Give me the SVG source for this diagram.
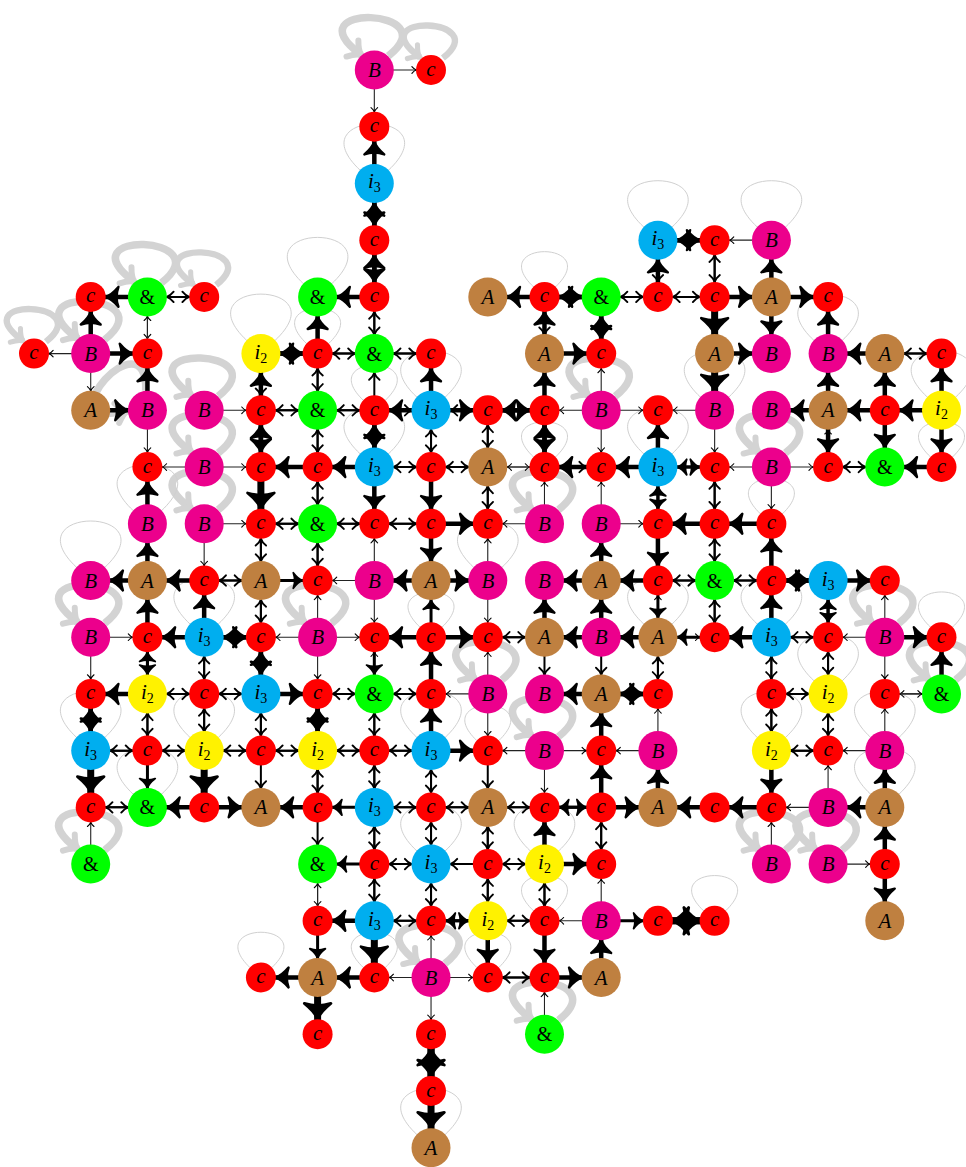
<svg xmlns="http://www.w3.org/2000/svg" width="966" height="1167" viewBox="0 0 966 1167">
<style>
.C{fill:#ff0000}.B{fill:#ec008c}.A{fill:#bf8040}.G{fill:#00ff00}.I3{fill:#00aeef}.I2{fill:#fff200}
#nodes text{font-family:"Liberation Serif",serif;font-style:italic;font-size:21px;text-anchor:middle;fill:#000}
#nodes text.u{font-style:normal;font-size:20px}
#nodes tspan.s{font-style:normal;font-size:14px}
.ah{fill:none;stroke:#000;stroke-linecap:round;stroke-linejoin:round}
.af{fill:#000;stroke:#000;stroke-linecap:round;stroke-linejoin:round}
.tk{fill:none;stroke:#d3d3d3;stroke-width:7.5;marker-end:url(#gh)}
.tn{fill:none;stroke:#d0d0d0;stroke-width:1}
.w1c,.w1b{stroke-width:.0194;stroke:#222}
.w2c,.w2b{stroke-width:.03526}
.w3c,.w3b{stroke-width:.0529}
.w4c,.w4b{stroke-width:.0793}
.w7c,.w7b{stroke-width:.1234}
.w1c{marker-end:url(#a1c)}.w1b{marker-end:url(#a1b)}
.w2c{marker-end:url(#a2c)}.w2b{marker-end:url(#a2b)}
.w3c{marker-end:url(#a3c)}.w3b{marker-end:url(#a3b)}
.w4c{marker-end:url(#a4c)}.w4b{marker-end:url(#a4b)}
.w7c{marker-end:url(#a7c)}.w7b{marker-end:url(#a7b)}
</style>
<defs>
<marker id="a1c" markerUnits="strokeWidth" orient="auto" refX="13.4" refY="0" overflow="visible"><path class="ah" stroke-width="1" d="M-4,-3 C-2.5,-1.2 -1,-0.3 0,0 C-1,0.3 -2.5,1.2 -4,3"/></marker>
<marker id="a1b" markerUnits="strokeWidth" orient="auto" refX="17.5" refY="0" overflow="visible"><path class="ah" stroke-width="1" d="M-4,-3 C-2.5,-1.2 -1,-0.3 0,0 C-1,0.3 -2.5,1.2 -4,3"/></marker>
<marker id="a2c" markerUnits="strokeWidth" orient="auto" refX="7.4" refY="0" overflow="visible"><path class="ah" stroke-width=".95" d="M-3.5,-2.6 C-2.2,-1 -0.9,-0.25 0,0 C-0.9,0.25 -2.2,1 -3.5,2.6"/></marker>
<marker id="a2b" markerUnits="strokeWidth" orient="auto" refX="9.6" refY="0" overflow="visible"><path class="ah" stroke-width=".95" d="M-3.5,-2.6 C-2.2,-1 -0.9,-0.25 0,0 C-0.9,0.25 -2.2,1 -3.5,2.6"/></marker>
<marker id="a3c" markerUnits="strokeWidth" orient="auto" refX="4.9" refY="0" overflow="visible"><path class="af" stroke-width=".6" d="M0,0 C-0.8,-0.25 -2,-1 -3.2,-2.6 Q-2.3,0 -3.2,2.6 C-2,1 -0.8,0.25 0,0 Z"/></marker>
<marker id="a3b" markerUnits="strokeWidth" orient="auto" refX="6.4" refY="0" overflow="visible"><path class="af" stroke-width=".6" d="M0,0 C-0.8,-0.25 -2,-1 -3.2,-2.6 Q-2.3,0 -3.2,2.6 C-2,1 -0.8,0.25 0,0 Z"/></marker>
<marker id="a4c" markerUnits="strokeWidth" orient="auto" refX="3.25" refY="0" overflow="visible"><path class="af" stroke-width=".55" d="M0,0 C-0.7,-0.2 -1.8,-0.9 -2.9,-2.2 Q-2.1,0 -2.9,2.2 C-1.8,0.9 -0.7,0.2 0,0 Z"/></marker>
<marker id="a4b" markerUnits="strokeWidth" orient="auto" refX="4.25" refY="0" overflow="visible"><path class="af" stroke-width=".55" d="M0,0 C-0.7,-0.2 -1.8,-0.9 -2.9,-2.2 Q-2.1,0 -2.9,2.2 C-1.8,0.9 -0.7,0.2 0,0 Z"/></marker>
<marker id="a7c" markerUnits="strokeWidth" orient="auto" refX="2.1" refY="0" overflow="visible"><path class="af" stroke-width=".4" d="M0,0 C-0.6,-0.2 -1.4,-0.8 -2.3,-1.9 Q-1.7,0 -2.3,1.9 C-1.4,0.8 -0.6,0.2 0,0 Z"/></marker>
<marker id="a7b" markerUnits="strokeWidth" orient="auto" refX="2.75" refY="0" overflow="visible"><path class="af" stroke-width=".4" d="M0,0 C-0.6,-0.2 -1.4,-0.8 -2.3,-1.9 Q-1.7,0 -2.3,1.9 C-1.4,0.8 -0.6,0.2 0,0 Z"/></marker>
<marker id="gh" markerUnits="userSpaceOnUse" orient="auto" refX="0" refY="0" overflow="visible"><path fill="none" stroke="#d3d3d3" stroke-width="6" stroke-linecap="round" stroke-linejoin="round" d="M-11,-10 C-7,-4.5 -3,-1 0,0 C-3,1 -7,4.5 -11,10"/></marker>
<path id="KL" class="tk" d="M14,-14 C75,-62 -85,-68 -13,-15"/>
<path id="TL" class="tn" d="M-14,-13 C-80,-75 80,-75 14,-13"/>
<path id="TLc" class="tn" d="M-11,-10 C-60,-57 60,-57 11,-10"/>
</defs>
<rect width="966" height="1167" fill="#fff"/>
<g id="connectors">
<g id="loops">
<use href="#KL" transform="translate(374.3,70)"/>
<use href="#KL" transform="translate(431,70) scale(.85)"/>
<use href="#KL" transform="translate(34,353.6) scale(.85)"/>
<use href="#KL" transform="translate(90.7,353.6)"/>
<use href="#KL" transform="translate(147.4,296.9)"/>
<use href="#KL" transform="translate(204.2,296.9) scale(.85)"/>
<use href="#KL" transform="translate(147.4,410.3) rotate(-50)"/>
<use href="#KL" transform="translate(204.2,410.3)"/>
<use href="#KL" transform="translate(204.2,467)"/>
<use href="#KL" transform="translate(204.2,523.8)"/>
<use href="#KL" transform="translate(601.2,410.3)"/>
<use href="#KL" transform="translate(544.5,523.8)"/>
<use href="#KL" transform="translate(771.4,467)"/>
<use href="#KL" transform="translate(317.6,637.2)"/>
<use href="#KL" transform="translate(90.7,637.2)"/>
<use href="#KL" transform="translate(487.8,693.9)"/>
<use href="#KL" transform="translate(544.5,750.6)"/>
<use href="#KL" transform="translate(884.8,637.2)"/>
<use href="#KL" transform="translate(941.5,693.9)"/>
<use href="#KL" transform="translate(771.4,864.1)"/>
<use href="#KL" transform="translate(828.1,864.1)"/>
<use href="#KL" transform="translate(90.7,864.1)"/>
<use href="#KL" transform="translate(431,977.5)"/>
<use href="#KL" transform="translate(544.5,1034.2)"/>
<use href="#TL" x="374.3" y="183.4"/><use href="#TL" x="317.6" y="296.9"/><use href="#TL" x="657.9" y="240.2"/><use href="#TL" x="771.4" y="240.2"/>
<use href="#TL" x="828.1" y="353.6"/><use href="#TL" x="260.9" y="353.6"/><use href="#TL" x="431" y="410.3"/><use href="#TL" x="374.3" y="467"/>
<use href="#TL" x="487.8" y="580.5"/><use href="#TL" x="714.6" y="410.3"/><use href="#TL" x="657.9" y="467"/><use href="#TL" x="941.5" y="410.3"/>
<use href="#TL" x="147.4" y="523.8"/><use href="#TL" x="90.7" y="580.5"/><use href="#TL" x="204.2" y="637.2"/><use href="#TL" x="90.7" y="750.6"/>
<use href="#TL" x="204.2" y="750.6"/><use href="#TL" x="147.4" y="807.4"/><use href="#TL" x="431" y="750.6"/><use href="#TL" x="544.5" y="864.1"/>
<use href="#TL" x="431" y="864.1"/><use href="#TL" x="771.4" y="637.2"/><use href="#TL" x="828.1" y="693.9"/><use href="#TL" x="771.4" y="750.6"/>
<use href="#TL" x="884.8" y="750.6"/><use href="#TL" x="884.8" y="807.4"/><use href="#TL" x="657.9" y="637.2"/><use href="#TL" x="431" y="1147.7"/>
<use href="#TLc" x="317.6" y="353.6"/><use href="#TLc" x="544.5" y="296.9"/><use href="#TLc" x="374.3" y="410.3"/><use href="#TLc" x="544.5" y="467"/>
<use href="#TLc" x="771.4" y="523.8"/><use href="#TLc" x="941.5" y="467"/><use href="#TLc" x="431" y="637.2"/><use href="#TLc" x="487.8" y="750.6"/>
<use href="#TLc" x="941.5" y="637.2"/><use href="#TLc" x="374.3" y="977.5"/><use href="#TLc" x="487.8" y="977.5"/><use href="#TLc" x="544.5" y="920.8"/>
<use href="#TLc" x="260.9" y="977.5"/><use href="#TLc" x="714.6" y="920.8"/>
</g>
<g id="edges" transform="translate(34,70) scale(56.72)" fill="none" stroke="#000">
<g class="w1c"><path d="M6 0h1"/><path d="M6 0v1"/><path d="M13 3h-1"/><path d="M2 4v1"/><path d="M1 5h-1"/><path d="M10 6v-1"/><path d="M3 6h1"/><path d="M10 6h-1"/><path d="M10 6h1"/><path d="M12 6h-1"/><path d="M2 6v1"/><path d="M10 6v1"/><path d="M12 6v1"/><path d="M3 7h-1"/><path d="M3 7h1"/><path d="M8 7h1"/><path d="M13 7h-1"/><path d="M13 7h1"/><path d="M9 8v-1"/><path d="M10 8v-1"/><path d="M13 7v1"/><path d="M3 8h1"/><path d="M9 8h-1"/><path d="M10 8h1"/><path d="M3 8v1"/><path d="M6 9v-1"/><path d="M8 9v-1"/><path d="M6 9h-1"/><path d="M5 10v-1"/><path d="M6 9v1"/><path d="M8 9v1"/><path d="M11 10v-1"/><path d="M15 10v-1"/><path d="M1 10h1"/><path d="M5 10h-1"/><path d="M5 10h1"/><path d="M11 10h1"/><path d="M15 10h-1"/><path d="M1 10v1"/><path d="M5 10v1"/><path d="M6 11v-1"/><path d="M8 11v-1"/><path d="M15 10v1"/><path d="M8 11h-1"/><path d="M16 11h-1"/><path d="M8 11v1"/><path d="M11 12v-1"/><path d="M15 12v-1"/><path d="M9 12h-1"/><path d="M9 12h1"/><path d="M11 12h-1"/><path d="M15 12h-1"/><path d="M9 12v1"/><path d="M14 13v-1"/><path d="M14 13h-1"/><path d="M1 14v-1"/><path d="M13 14v-1"/><path d="M14 14h1"/><path d="M5 14v1"/><path d="M10 15v-1"/><path d="M10 15h-1"/><path d="M7 16v-1"/><path d="M7 16h-1"/><path d="M7 16h1"/><path d="M7 16v1"/><path d="M9 17v-1"/></g>
<g class="w1b"><path d="M2 5v-1"/><path d="M1 5v1"/><path d="M14 7v-1"/><path d="M9 7h-1"/><path d="M15 11h1"/><path d="M5 15v-1"/></g>
<g class="w2c"><path d="M11 3v1"/><path d="M12 3v1"/><path d="M12 4v-1"/><path d="M2 4h1"/><path d="M10 4h1"/><path d="M11 4h1"/><path d="M12 4h-1"/><path d="M6 5v-1"/><path d="M6 5h-1"/><path d="M6 5h1"/><path d="M15 5h1"/><path d="M4 5v1"/><path d="M5 6v-1"/><path d="M5 6h-1"/><path d="M5 6h1"/><path d="M5 6v1"/><path d="M7 6v1"/><path d="M8 7v-1"/><path d="M6 7h1"/><path d="M8 7h-1"/><path d="M9 7h1"/><path d="M15 7h-1"/><path d="M5 8v-1"/><path d="M8 7v1"/><path d="M12 7v1"/><path d="M12 8v-1"/><path d="M5 8h-1"/><path d="M5 8h1"/><path d="M6 8h1"/><path d="M7 8h-1"/><path d="M4 9v-1"/><path d="M5 8v1"/><path d="M12 9v-1"/><path d="M4 9h-1"/><path d="M12 9h-1"/><path d="M12 9h1"/><path d="M4 9v1"/><path d="M12 9v1"/><path d="M9 10h-1"/><path d="M13 10h1"/><path d="M3 10v1"/><path d="M11 10v1"/><path d="M13 10v1"/><path d="M14 11v-1"/><path d="M2 11h1"/><path d="M4 11h-1"/><path d="M6 11h-1"/><path d="M6 11h1"/><path d="M14 11h-1"/><path d="M2 11v1"/><path d="M3 12v-1"/><path d="M4 11v1"/><path d="M6 11v1"/><path d="M13 12v-1"/><path d="M14 11v1"/><path d="M1 12h1"/><path d="M3 12h-1"/><path d="M3 12h1"/><path d="M5 12h-1"/><path d="M5 12h1"/><path d="M7 12h-1"/><path d="M13 12h1"/><path d="M5 12v1"/><path d="M6 13v-1"/><path d="M7 12v1"/><path d="M2 13h-1"/><path d="M6 13h1"/><path d="M8 13h-1"/><path d="M8 13h1"/><path d="M6 13v1"/><path d="M7 14v-1"/><path d="M8 13v1"/><path d="M10 13v1"/><path d="M10 14v-1"/><path d="M7 14h-1"/><path d="M9 14h-1"/><path d="M6 15v-1"/><path d="M7 14v1"/><path d="M8 15v-1"/><path d="M9 14v1"/><path d="M6 15h1"/><path d="M8 15h1"/><path d="M8 16h1"/><path d="M9 16h-1"/></g>
<g class="w2b"><path d="M3 4h-1"/><path d="M11 4h-1"/><path d="M6 4v1"/><path d="M9 4v1"/><path d="M5 5h1"/><path d="M7 5h-1"/><path d="M16 5h-1"/><path d="M5 5v1"/><path d="M6 6v-1"/><path d="M4 6h1"/><path d="M6 6h-1"/><path d="M6 6h1"/><path d="M8 6h-1"/><path d="M5 7v-1"/><path d="M7 7v-1"/><path d="M8 6v1"/><path d="M7 7h-1"/><path d="M7 7h1"/><path d="M14 7h1"/><path d="M5 7v1"/><path d="M8 8v-1"/><path d="M4 8h1"/><path d="M6 8h-1"/><path d="M4 8v1"/><path d="M5 9v-1"/><path d="M12 8v1"/><path d="M3 9h1"/><path d="M11 9h1"/><path d="M13 9h-1"/><path d="M4 10v-1"/><path d="M12 10v-1"/><path d="M8 10h1"/><path d="M14 10h-1"/><path d="M3 11v-1"/><path d="M9 10v1"/><path d="M10 10v1"/><path d="M11 11v-1"/><path d="M13 11v-1"/><path d="M14 10v1"/><path d="M3 11h-1"/><path d="M3 11h1"/><path d="M5 11h1"/><path d="M7 11h-1"/><path d="M13 11h1"/><path d="M2 12v-1"/><path d="M3 11v1"/><path d="M4 12v-1"/><path d="M6 12v-1"/><path d="M13 11v1"/><path d="M14 12v-1"/><path d="M2 12h-1"/><path d="M2 12h1"/><path d="M4 12h-1"/><path d="M4 12h1"/><path d="M6 12h-1"/><path d="M6 12h1"/><path d="M14 12h-1"/><path d="M4 12v1"/><path d="M5 13v-1"/><path d="M6 12v1"/><path d="M7 13v-1"/><path d="M8 12v1"/><path d="M1 13h1"/><path d="M7 13h-1"/><path d="M7 13h1"/><path d="M9 13h-1"/><path d="M5 13v1"/><path d="M6 14v-1"/><path d="M7 13v1"/><path d="M8 14v-1"/><path d="M6 14h1"/><path d="M8 14h-1"/><path d="M8 14h1"/><path d="M6 14v1"/><path d="M7 15v-1"/><path d="M8 14v1"/><path d="M9 15v-1"/><path d="M7 15h-1"/><path d="M9 15h-1"/></g>
<g class="w3c"><path d="M11 7h1"/><path d="M11 7v1"/><path d="M4 9h1"/><path d="M14 9v1"/><path d="M2 11v-1"/><path d="M6 13h-1"/><path d="M9 13h1"/><path d="M10 13h-1"/><path d="M8 15h-1"/><path d="M10 15h1"/></g>
<g class="w3b"><path d="M12 7h-1"/><path d="M11 8v-1"/><path d="M7 10v-1"/><path d="M11 9v1"/><path d="M14 10v-1"/><path d="M12 10h-1"/><path d="M2 10v1"/><path d="M6 10v1"/><path d="M2 12v1"/><path d="M6 14h-1"/><path d="M7 15h1"/><path d="M5 15v1"/></g>
<g class="w4c"><path d="M6 2v-1"/><path d="M6 2v1"/><path d="M6 3v1"/><path d="M6 4v-1"/><path d="M11 3h1"/><path d="M2 4h-1"/><path d="M10 4h-1"/><path d="M13 4h1"/><path d="M1 5v-1"/><path d="M9 5v-1"/><path d="M10 4v1"/><path d="M14 5v-1"/><path d="M1 5h1"/><path d="M4 5h1"/><path d="M9 5h1"/><path d="M2 6v-1"/><path d="M7 6v-1"/><path d="M16 6v-1"/><path d="M7 6h-1"/><path d="M7 6h1"/><path d="M8 6h1"/><path d="M9 6h-1"/><path d="M16 6h-1"/><path d="M4 6v1"/><path d="M4 7v-1"/><path d="M6 7v-1"/><path d="M9 6v1"/><path d="M9 7v-1"/><path d="M11 7v-1"/><path d="M14 6v1"/><path d="M16 6v1"/><path d="M5 7h-1"/><path d="M6 7h-1"/><path d="M10 7h-1"/><path d="M11 7h-1"/><path d="M2 8v-1"/><path d="M6 7v1"/><path d="M7 7v1"/><path d="M7 8h1"/><path d="M12 8h-1"/><path d="M13 8h-1"/><path d="M11 8v1"/><path d="M13 9v-1"/><path d="M14 9h-1"/><path d="M14 9h1"/><path d="M3 10v-1"/><path d="M13 10v-1"/><path d="M3 10h-1"/><path d="M3 10h1"/><path d="M7 10h-1"/><path d="M7 10h1"/><path d="M13 10h-1"/><path d="M15 10h1"/><path d="M4 11v-1"/><path d="M7 11v-1"/><path d="M16 11v-1"/><path d="M2 11h-1"/><path d="M4 11h1"/><path d="M10 11h1"/><path d="M1 12v-1"/><path d="M5 12v-1"/><path d="M7 12v-1"/><path d="M7 12h1"/><path d="M10 13v-1"/><path d="M13 12v1"/><path d="M13 13h-1"/><path d="M9 14v-1"/><path d="M9 14h1"/><path d="M6 15h-1"/><path d="M8 15v1"/><path d="M9 15v1"/><path d="M5 16h-1"/></g>
<g class="w4b"><path d="M6 3v-1"/><path d="M6 4h-1"/><path d="M12 3h-1"/><path d="M11 4v-1"/><path d="M13 4v-1"/><path d="M9 4h-1"/><path d="M9 4h1"/><path d="M12 4h1"/><path d="M5 5v-1"/><path d="M10 5v-1"/><path d="M13 4v1"/><path d="M5 5h-1"/><path d="M12 5h1"/><path d="M15 5h-1"/><path d="M4 6v-1"/><path d="M9 6v-1"/><path d="M14 6v-1"/><path d="M15 6v-1"/><path d="M1 6h1"/><path d="M14 6h-1"/><path d="M15 6h-1"/><path d="M6 6v1"/><path d="M15 6v1"/><path d="M16 7h-1"/><path d="M7 8v1"/><path d="M10 9v-1"/><path d="M2 9v-1"/><path d="M2 9h-1"/><path d="M3 9h-1"/><path d="M7 9h-1"/><path d="M7 9h1"/><path d="M10 9h-1"/><path d="M11 9h-1"/><path d="M13 9h1"/><path d="M2 10v-1"/><path d="M9 10v-1"/><path d="M10 10v-1"/><path d="M4 10h-1"/><path d="M10 10h-1"/><path d="M11 10h-1"/><path d="M4 10v1"/><path d="M10 11h-1"/><path d="M11 11h-1"/><path d="M1 11v1"/><path d="M5 11v1"/><path d="M10 12v-1"/><path d="M11 13v-1"/><path d="M15 13v-1"/><path d="M3 13h-1"/><path d="M3 13h1"/><path d="M5 13h-1"/><path d="M10 13h1"/><path d="M12 13h-1"/><path d="M15 13h-1"/><path d="M15 14v-1"/><path d="M15 14v1"/><path d="M10 16v-1"/><path d="M6 16h-1"/><path d="M9 16h1"/></g>
<g class="w7c"><path d="M4 7v1"/><path d="M1 12v1"/><path d="M3 12v1"/><path d="M11 15h1"/><path d="M12 15h-1"/><path d="M6 15v1"/><path d="M5 16v1"/><path d="M7 17v1"/><path d="M7 18v-1"/></g>
<g class="w7b"><path d="M12 4v1"/><path d="M12 5v1"/><path d="M7 18v1"/></g>
</g>
</g>
<g id="nodes">
<g id="n6_0" transform="translate(374.3,70)"><circle class="B" r="19.5"/><text y="7">B</text></g>
<g id="n7_0" transform="translate(431,70)"><circle class="C" r="15"/><text y="5.5">c</text></g>
<g id="n6_1" transform="translate(374.3,126.7)"><circle class="C" r="15"/><text y="5.5">c</text></g>
<g id="n6_2" transform="translate(374.3,183.4)"><circle class="I3" r="19.5"/><text y="5">i<tspan class="s" dy="4">3</tspan></text></g>
<g id="n6_3" transform="translate(374.3,240.2)"><circle class="C" r="15"/><text y="5.5">c</text></g>
<g id="n11_3" transform="translate(657.9,240.2)"><circle class="I3" r="19.5"/><text y="5">i<tspan class="s" dy="4">3</tspan></text></g>
<g id="n12_3" transform="translate(714.6,240.2)"><circle class="C" r="15"/><text y="5.5">c</text></g>
<g id="n13_3" transform="translate(771.4,240.2)"><circle class="B" r="19.5"/><text y="7">B</text></g>
<g id="n1_4" transform="translate(90.7,296.9)"><circle class="C" r="15"/><text y="5.5">c</text></g>
<g id="n2_4" transform="translate(147.4,296.9)"><circle class="G" r="19.5"/><text class="u" y="7">&amp;</text></g>
<g id="n3_4" transform="translate(204.2,296.9)"><circle class="C" r="15"/><text y="5.5">c</text></g>
<g id="n5_4" transform="translate(317.6,296.9)"><circle class="G" r="19.5"/><text class="u" y="7">&amp;</text></g>
<g id="n6_4" transform="translate(374.3,296.9)"><circle class="C" r="15"/><text y="5.5">c</text></g>
<g id="n8_4" transform="translate(487.8,296.9)"><circle class="A" r="19.5"/><text y="7">A</text></g>
<g id="n9_4" transform="translate(544.5,296.9)"><circle class="C" r="15"/><text y="5.5">c</text></g>
<g id="n10_4" transform="translate(601.2,296.9)"><circle class="G" r="19.5"/><text class="u" y="7">&amp;</text></g>
<g id="n11_4" transform="translate(657.9,296.9)"><circle class="C" r="15"/><text y="5.5">c</text></g>
<g id="n12_4" transform="translate(714.6,296.9)"><circle class="C" r="15"/><text y="5.5">c</text></g>
<g id="n13_4" transform="translate(771.4,296.9)"><circle class="A" r="19.5"/><text y="7">A</text></g>
<g id="n14_4" transform="translate(828.1,296.9)"><circle class="C" r="15"/><text y="5.5">c</text></g>
<g id="n0_5" transform="translate(34,353.6)"><circle class="C" r="15"/><text y="5.5">c</text></g>
<g id="n1_5" transform="translate(90.7,353.6)"><circle class="B" r="19.5"/><text y="7">B</text></g>
<g id="n2_5" transform="translate(147.4,353.6)"><circle class="C" r="15"/><text y="5.5">c</text></g>
<g id="n4_5" transform="translate(260.9,353.6)"><circle class="I2" r="19.5"/><text y="5">i<tspan class="s" dy="4">2</tspan></text></g>
<g id="n5_5" transform="translate(317.6,353.6)"><circle class="C" r="15"/><text y="5.5">c</text></g>
<g id="n6_5" transform="translate(374.3,353.6)"><circle class="G" r="19.5"/><text class="u" y="7">&amp;</text></g>
<g id="n7_5" transform="translate(431,353.6)"><circle class="C" r="15"/><text y="5.5">c</text></g>
<g id="n9_5" transform="translate(544.5,353.6)"><circle class="A" r="19.5"/><text y="7">A</text></g>
<g id="n10_5" transform="translate(601.2,353.6)"><circle class="C" r="15"/><text y="5.5">c</text></g>
<g id="n12_5" transform="translate(714.6,353.6)"><circle class="A" r="19.5"/><text y="7">A</text></g>
<g id="n13_5" transform="translate(771.4,353.6)"><circle class="B" r="19.5"/><text y="7">B</text></g>
<g id="n14_5" transform="translate(828.1,353.6)"><circle class="B" r="19.5"/><text y="7">B</text></g>
<g id="n15_5" transform="translate(884.8,353.6)"><circle class="A" r="19.5"/><text y="7">A</text></g>
<g id="n16_5" transform="translate(941.5,353.6)"><circle class="C" r="15"/><text y="5.5">c</text></g>
<g id="n1_6" transform="translate(90.7,410.3)"><circle class="A" r="19.5"/><text y="7">A</text></g>
<g id="n2_6" transform="translate(147.4,410.3)"><circle class="B" r="19.5"/><text y="7">B</text></g>
<g id="n3_6" transform="translate(204.2,410.3)"><circle class="B" r="19.5"/><text y="7">B</text></g>
<g id="n4_6" transform="translate(260.9,410.3)"><circle class="C" r="15"/><text y="5.5">c</text></g>
<g id="n5_6" transform="translate(317.6,410.3)"><circle class="G" r="19.5"/><text class="u" y="7">&amp;</text></g>
<g id="n6_6" transform="translate(374.3,410.3)"><circle class="C" r="15"/><text y="5.5">c</text></g>
<g id="n7_6" transform="translate(431,410.3)"><circle class="I3" r="19.5"/><text y="5">i<tspan class="s" dy="4">3</tspan></text></g>
<g id="n8_6" transform="translate(487.8,410.3)"><circle class="C" r="15"/><text y="5.5">c</text></g>
<g id="n9_6" transform="translate(544.5,410.3)"><circle class="C" r="15"/><text y="5.5">c</text></g>
<g id="n10_6" transform="translate(601.2,410.3)"><circle class="B" r="19.5"/><text y="7">B</text></g>
<g id="n11_6" transform="translate(657.9,410.3)"><circle class="C" r="15"/><text y="5.5">c</text></g>
<g id="n12_6" transform="translate(714.6,410.3)"><circle class="B" r="19.5"/><text y="7">B</text></g>
<g id="n13_6" transform="translate(771.4,410.3)"><circle class="B" r="19.5"/><text y="7">B</text></g>
<g id="n14_6" transform="translate(828.1,410.3)"><circle class="A" r="19.5"/><text y="7">A</text></g>
<g id="n15_6" transform="translate(884.8,410.3)"><circle class="C" r="15"/><text y="5.5">c</text></g>
<g id="n16_6" transform="translate(941.5,410.3)"><circle class="I2" r="19.5"/><text y="5">i<tspan class="s" dy="4">2</tspan></text></g>
<g id="n2_7" transform="translate(147.4,467)"><circle class="C" r="15"/><text y="5.5">c</text></g>
<g id="n3_7" transform="translate(204.2,467)"><circle class="B" r="19.5"/><text y="7">B</text></g>
<g id="n4_7" transform="translate(260.9,467)"><circle class="C" r="15"/><text y="5.5">c</text></g>
<g id="n5_7" transform="translate(317.6,467)"><circle class="C" r="15"/><text y="5.5">c</text></g>
<g id="n6_7" transform="translate(374.3,467)"><circle class="I3" r="19.5"/><text y="5">i<tspan class="s" dy="4">3</tspan></text></g>
<g id="n7_7" transform="translate(431,467)"><circle class="C" r="15"/><text y="5.5">c</text></g>
<g id="n8_7" transform="translate(487.8,467)"><circle class="A" r="19.5"/><text y="7">A</text></g>
<g id="n9_7" transform="translate(544.5,467)"><circle class="C" r="15"/><text y="5.5">c</text></g>
<g id="n10_7" transform="translate(601.2,467)"><circle class="C" r="15"/><text y="5.5">c</text></g>
<g id="n11_7" transform="translate(657.9,467)"><circle class="I3" r="19.5"/><text y="5">i<tspan class="s" dy="4">3</tspan></text></g>
<g id="n12_7" transform="translate(714.6,467)"><circle class="C" r="15"/><text y="5.5">c</text></g>
<g id="n13_7" transform="translate(771.4,467)"><circle class="B" r="19.5"/><text y="7">B</text></g>
<g id="n14_7" transform="translate(828.1,467)"><circle class="C" r="15"/><text y="5.5">c</text></g>
<g id="n15_7" transform="translate(884.8,467)"><circle class="G" r="19.5"/><text class="u" y="7">&amp;</text></g>
<g id="n16_7" transform="translate(941.5,467)"><circle class="C" r="15"/><text y="5.5">c</text></g>
<g id="n2_8" transform="translate(147.4,523.8)"><circle class="B" r="19.5"/><text y="7">B</text></g>
<g id="n3_8" transform="translate(204.2,523.8)"><circle class="B" r="19.5"/><text y="7">B</text></g>
<g id="n4_8" transform="translate(260.9,523.8)"><circle class="C" r="15"/><text y="5.5">c</text></g>
<g id="n5_8" transform="translate(317.6,523.8)"><circle class="G" r="19.5"/><text class="u" y="7">&amp;</text></g>
<g id="n6_8" transform="translate(374.3,523.8)"><circle class="C" r="15"/><text y="5.5">c</text></g>
<g id="n7_8" transform="translate(431,523.8)"><circle class="C" r="15"/><text y="5.5">c</text></g>
<g id="n8_8" transform="translate(487.8,523.8)"><circle class="C" r="15"/><text y="5.5">c</text></g>
<g id="n9_8" transform="translate(544.5,523.8)"><circle class="B" r="19.5"/><text y="7">B</text></g>
<g id="n10_8" transform="translate(601.2,523.8)"><circle class="B" r="19.5"/><text y="7">B</text></g>
<g id="n11_8" transform="translate(657.9,523.8)"><circle class="C" r="15"/><text y="5.5">c</text></g>
<g id="n12_8" transform="translate(714.6,523.8)"><circle class="C" r="15"/><text y="5.5">c</text></g>
<g id="n13_8" transform="translate(771.4,523.8)"><circle class="C" r="15"/><text y="5.5">c</text></g>
<g id="n1_9" transform="translate(90.7,580.5)"><circle class="B" r="19.5"/><text y="7">B</text></g>
<g id="n2_9" transform="translate(147.4,580.5)"><circle class="A" r="19.5"/><text y="7">A</text></g>
<g id="n3_9" transform="translate(204.2,580.5)"><circle class="C" r="15"/><text y="5.5">c</text></g>
<g id="n4_9" transform="translate(260.9,580.5)"><circle class="A" r="19.5"/><text y="7">A</text></g>
<g id="n5_9" transform="translate(317.6,580.5)"><circle class="C" r="15"/><text y="5.5">c</text></g>
<g id="n6_9" transform="translate(374.3,580.5)"><circle class="B" r="19.5"/><text y="7">B</text></g>
<g id="n7_9" transform="translate(431,580.5)"><circle class="A" r="19.5"/><text y="7">A</text></g>
<g id="n8_9" transform="translate(487.8,580.5)"><circle class="B" r="19.5"/><text y="7">B</text></g>
<g id="n9_9" transform="translate(544.5,580.5)"><circle class="B" r="19.5"/><text y="7">B</text></g>
<g id="n10_9" transform="translate(601.2,580.5)"><circle class="A" r="19.5"/><text y="7">A</text></g>
<g id="n11_9" transform="translate(657.9,580.5)"><circle class="C" r="15"/><text y="5.5">c</text></g>
<g id="n12_9" transform="translate(714.6,580.5)"><circle class="G" r="19.5"/><text class="u" y="7">&amp;</text></g>
<g id="n13_9" transform="translate(771.4,580.5)"><circle class="C" r="15"/><text y="5.5">c</text></g>
<g id="n14_9" transform="translate(828.1,580.5)"><circle class="I3" r="19.5"/><text y="5">i<tspan class="s" dy="4">3</tspan></text></g>
<g id="n15_9" transform="translate(884.8,580.5)"><circle class="C" r="15"/><text y="5.5">c</text></g>
<g id="n1_10" transform="translate(90.7,637.2)"><circle class="B" r="19.5"/><text y="7">B</text></g>
<g id="n2_10" transform="translate(147.4,637.2)"><circle class="C" r="15"/><text y="5.5">c</text></g>
<g id="n3_10" transform="translate(204.2,637.2)"><circle class="I3" r="19.5"/><text y="5">i<tspan class="s" dy="4">3</tspan></text></g>
<g id="n4_10" transform="translate(260.9,637.2)"><circle class="C" r="15"/><text y="5.5">c</text></g>
<g id="n5_10" transform="translate(317.6,637.2)"><circle class="B" r="19.5"/><text y="7">B</text></g>
<g id="n6_10" transform="translate(374.3,637.2)"><circle class="C" r="15"/><text y="5.5">c</text></g>
<g id="n7_10" transform="translate(431,637.2)"><circle class="C" r="15"/><text y="5.5">c</text></g>
<g id="n8_10" transform="translate(487.8,637.2)"><circle class="C" r="15"/><text y="5.5">c</text></g>
<g id="n9_10" transform="translate(544.5,637.2)"><circle class="A" r="19.5"/><text y="7">A</text></g>
<g id="n10_10" transform="translate(601.2,637.2)"><circle class="B" r="19.5"/><text y="7">B</text></g>
<g id="n11_10" transform="translate(657.9,637.2)"><circle class="A" r="19.5"/><text y="7">A</text></g>
<g id="n12_10" transform="translate(714.6,637.2)"><circle class="C" r="15"/><text y="5.5">c</text></g>
<g id="n13_10" transform="translate(771.4,637.2)"><circle class="I3" r="19.5"/><text y="5">i<tspan class="s" dy="4">3</tspan></text></g>
<g id="n14_10" transform="translate(828.1,637.2)"><circle class="C" r="15"/><text y="5.5">c</text></g>
<g id="n15_10" transform="translate(884.8,637.2)"><circle class="B" r="19.5"/><text y="7">B</text></g>
<g id="n16_10" transform="translate(941.5,637.2)"><circle class="C" r="15"/><text y="5.5">c</text></g>
<g id="n1_11" transform="translate(90.7,693.9)"><circle class="C" r="15"/><text y="5.5">c</text></g>
<g id="n2_11" transform="translate(147.4,693.9)"><circle class="I2" r="19.5"/><text y="5">i<tspan class="s" dy="4">2</tspan></text></g>
<g id="n3_11" transform="translate(204.2,693.9)"><circle class="C" r="15"/><text y="5.5">c</text></g>
<g id="n4_11" transform="translate(260.9,693.9)"><circle class="I3" r="19.5"/><text y="5">i<tspan class="s" dy="4">3</tspan></text></g>
<g id="n5_11" transform="translate(317.6,693.9)"><circle class="C" r="15"/><text y="5.5">c</text></g>
<g id="n6_11" transform="translate(374.3,693.9)"><circle class="G" r="19.5"/><text class="u" y="7">&amp;</text></g>
<g id="n7_11" transform="translate(431,693.9)"><circle class="C" r="15"/><text y="5.5">c</text></g>
<g id="n8_11" transform="translate(487.8,693.9)"><circle class="B" r="19.5"/><text y="7">B</text></g>
<g id="n9_11" transform="translate(544.5,693.9)"><circle class="B" r="19.5"/><text y="7">B</text></g>
<g id="n10_11" transform="translate(601.2,693.9)"><circle class="A" r="19.5"/><text y="7">A</text></g>
<g id="n11_11" transform="translate(657.9,693.9)"><circle class="C" r="15"/><text y="5.5">c</text></g>
<g id="n13_11" transform="translate(771.4,693.9)"><circle class="C" r="15"/><text y="5.5">c</text></g>
<g id="n14_11" transform="translate(828.1,693.9)"><circle class="I2" r="19.5"/><text y="5">i<tspan class="s" dy="4">2</tspan></text></g>
<g id="n15_11" transform="translate(884.8,693.9)"><circle class="C" r="15"/><text y="5.5">c</text></g>
<g id="n16_11" transform="translate(941.5,693.9)"><circle class="G" r="19.5"/><text class="u" y="7">&amp;</text></g>
<g id="n1_12" transform="translate(90.7,750.6)"><circle class="I3" r="19.5"/><text y="5">i<tspan class="s" dy="4">3</tspan></text></g>
<g id="n2_12" transform="translate(147.4,750.6)"><circle class="C" r="15"/><text y="5.5">c</text></g>
<g id="n3_12" transform="translate(204.2,750.6)"><circle class="I2" r="19.5"/><text y="5">i<tspan class="s" dy="4">2</tspan></text></g>
<g id="n4_12" transform="translate(260.9,750.6)"><circle class="C" r="15"/><text y="5.5">c</text></g>
<g id="n5_12" transform="translate(317.6,750.6)"><circle class="I2" r="19.5"/><text y="5">i<tspan class="s" dy="4">2</tspan></text></g>
<g id="n6_12" transform="translate(374.3,750.6)"><circle class="C" r="15"/><text y="5.5">c</text></g>
<g id="n7_12" transform="translate(431,750.6)"><circle class="I3" r="19.5"/><text y="5">i<tspan class="s" dy="4">3</tspan></text></g>
<g id="n8_12" transform="translate(487.8,750.6)"><circle class="C" r="15"/><text y="5.5">c</text></g>
<g id="n9_12" transform="translate(544.5,750.6)"><circle class="B" r="19.5"/><text y="7">B</text></g>
<g id="n10_12" transform="translate(601.2,750.6)"><circle class="C" r="15"/><text y="5.5">c</text></g>
<g id="n11_12" transform="translate(657.9,750.6)"><circle class="B" r="19.5"/><text y="7">B</text></g>
<g id="n13_12" transform="translate(771.4,750.6)"><circle class="I2" r="19.5"/><text y="5">i<tspan class="s" dy="4">2</tspan></text></g>
<g id="n14_12" transform="translate(828.1,750.6)"><circle class="C" r="15"/><text y="5.5">c</text></g>
<g id="n15_12" transform="translate(884.8,750.6)"><circle class="B" r="19.5"/><text y="7">B</text></g>
<g id="n1_13" transform="translate(90.7,807.4)"><circle class="C" r="15"/><text y="5.5">c</text></g>
<g id="n2_13" transform="translate(147.4,807.4)"><circle class="G" r="19.5"/><text class="u" y="7">&amp;</text></g>
<g id="n3_13" transform="translate(204.2,807.4)"><circle class="C" r="15"/><text y="5.5">c</text></g>
<g id="n4_13" transform="translate(260.9,807.4)"><circle class="A" r="19.5"/><text y="7">A</text></g>
<g id="n5_13" transform="translate(317.6,807.4)"><circle class="C" r="15"/><text y="5.5">c</text></g>
<g id="n6_13" transform="translate(374.3,807.4)"><circle class="I3" r="19.5"/><text y="5">i<tspan class="s" dy="4">3</tspan></text></g>
<g id="n7_13" transform="translate(431,807.4)"><circle class="C" r="15"/><text y="5.5">c</text></g>
<g id="n8_13" transform="translate(487.8,807.4)"><circle class="A" r="19.5"/><text y="7">A</text></g>
<g id="n9_13" transform="translate(544.5,807.4)"><circle class="C" r="15"/><text y="5.5">c</text></g>
<g id="n10_13" transform="translate(601.2,807.4)"><circle class="C" r="15"/><text y="5.5">c</text></g>
<g id="n11_13" transform="translate(657.9,807.4)"><circle class="A" r="19.5"/><text y="7">A</text></g>
<g id="n12_13" transform="translate(714.6,807.4)"><circle class="C" r="15"/><text y="5.5">c</text></g>
<g id="n13_13" transform="translate(771.4,807.4)"><circle class="C" r="15"/><text y="5.5">c</text></g>
<g id="n14_13" transform="translate(828.1,807.4)"><circle class="B" r="19.5"/><text y="7">B</text></g>
<g id="n15_13" transform="translate(884.8,807.4)"><circle class="A" r="19.5"/><text y="7">A</text></g>
<g id="n1_14" transform="translate(90.7,864.1)"><circle class="G" r="19.5"/><text class="u" y="7">&amp;</text></g>
<g id="n5_14" transform="translate(317.6,864.1)"><circle class="G" r="19.5"/><text class="u" y="7">&amp;</text></g>
<g id="n6_14" transform="translate(374.3,864.1)"><circle class="C" r="15"/><text y="5.5">c</text></g>
<g id="n7_14" transform="translate(431,864.1)"><circle class="I3" r="19.5"/><text y="5">i<tspan class="s" dy="4">3</tspan></text></g>
<g id="n8_14" transform="translate(487.8,864.1)"><circle class="C" r="15"/><text y="5.5">c</text></g>
<g id="n9_14" transform="translate(544.5,864.1)"><circle class="I2" r="19.5"/><text y="5">i<tspan class="s" dy="4">2</tspan></text></g>
<g id="n10_14" transform="translate(601.2,864.1)"><circle class="C" r="15"/><text y="5.5">c</text></g>
<g id="n13_14" transform="translate(771.4,864.1)"><circle class="B" r="19.5"/><text y="7">B</text></g>
<g id="n14_14" transform="translate(828.1,864.1)"><circle class="B" r="19.5"/><text y="7">B</text></g>
<g id="n15_14" transform="translate(884.8,864.1)"><circle class="C" r="15"/><text y="5.5">c</text></g>
<g id="n5_15" transform="translate(317.6,920.8)"><circle class="C" r="15"/><text y="5.5">c</text></g>
<g id="n6_15" transform="translate(374.3,920.8)"><circle class="I3" r="19.5"/><text y="5">i<tspan class="s" dy="4">3</tspan></text></g>
<g id="n7_15" transform="translate(431,920.8)"><circle class="C" r="15"/><text y="5.5">c</text></g>
<g id="n8_15" transform="translate(487.8,920.8)"><circle class="I2" r="19.5"/><text y="5">i<tspan class="s" dy="4">2</tspan></text></g>
<g id="n9_15" transform="translate(544.5,920.8)"><circle class="C" r="15"/><text y="5.5">c</text></g>
<g id="n10_15" transform="translate(601.2,920.8)"><circle class="B" r="19.5"/><text y="7">B</text></g>
<g id="n11_15" transform="translate(657.9,920.8)"><circle class="C" r="15"/><text y="5.5">c</text></g>
<g id="n12_15" transform="translate(714.6,920.8)"><circle class="C" r="15"/><text y="5.5">c</text></g>
<g id="n15_15" transform="translate(884.8,920.8)"><circle class="A" r="19.5"/><text y="7">A</text></g>
<g id="n4_16" transform="translate(260.9,977.5)"><circle class="C" r="15"/><text y="5.5">c</text></g>
<g id="n5_16" transform="translate(317.6,977.5)"><circle class="A" r="19.5"/><text y="7">A</text></g>
<g id="n6_16" transform="translate(374.3,977.5)"><circle class="C" r="15"/><text y="5.5">c</text></g>
<g id="n7_16" transform="translate(431,977.5)"><circle class="B" r="19.5"/><text y="7">B</text></g>
<g id="n8_16" transform="translate(487.8,977.5)"><circle class="C" r="15"/><text y="5.5">c</text></g>
<g id="n9_16" transform="translate(544.5,977.5)"><circle class="C" r="15"/><text y="5.5">c</text></g>
<g id="n10_16" transform="translate(601.2,977.5)"><circle class="A" r="19.5"/><text y="7">A</text></g>
<g id="n5_17" transform="translate(317.6,1034.2)"><circle class="C" r="15"/><text y="5.5">c</text></g>
<g id="n7_17" transform="translate(431,1034.2)"><circle class="C" r="15"/><text y="5.5">c</text></g>
<g id="n9_17" transform="translate(544.5,1034.2)"><circle class="G" r="19.5"/><text class="u" y="7">&amp;</text></g>
<g id="n7_18" transform="translate(431,1091)"><circle class="C" r="15"/><text y="5.5">c</text></g>
<g id="n7_19" transform="translate(431,1147.7)"><circle class="A" r="19.5"/><text y="7">A</text></g>
</g>
</svg>
